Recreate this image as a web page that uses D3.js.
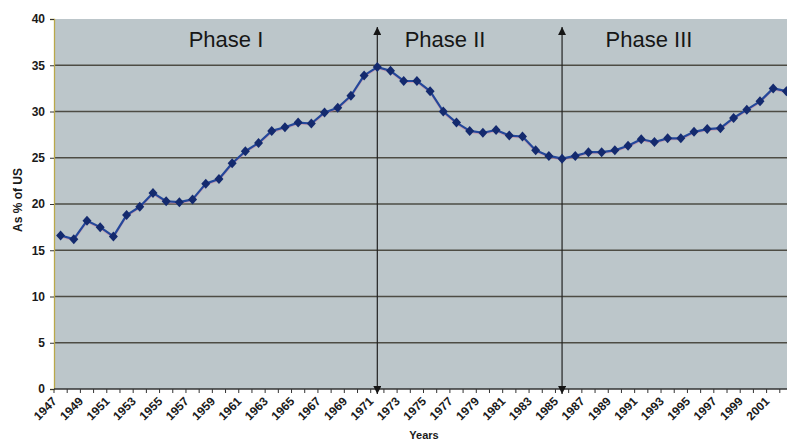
<!DOCTYPE html>
<html>
<head>
<meta charset="utf-8">
<script src="https://cdn.jsdelivr.net/npm/d3@7"></script>
<style>
  body { margin: 0; background: #fff; }
  svg { display: block; font-family: "Liberation Sans", Arial, sans-serif; }
</style>
</head>
<body>
<div id="chart"></div>
<script>
const years = d3.range(1947, 2003);
const shareOfUS = [
  16.6, 16.2, 18.2, 17.5, 16.5, 18.8, 19.7, 21.2, 20.3, 20.2,
  20.5, 22.2, 22.7, 24.4, 25.7, 26.6, 27.9, 28.3, 28.8, 28.7,
  29.9, 30.4, 31.7, 33.9, 34.8, 34.4, 33.3, 33.3, 32.2, 30.0,
  28.8, 27.9, 27.7, 28.0, 27.4, 27.3, 25.8, 25.2, 24.9, 25.2,
  25.6, 25.6, 25.8, 26.3, 27.0, 26.7, 27.1, 27.1, 27.8, 28.1,
  28.2, 29.3, 30.2, 31.1, 32.5, 32.2
];
const yTicks = [0, 5, 10, 15, 20, 25, 30, 35, 40];
const phaseBreaks = [1971, 1985];
const phaseNames = ["Phase I", "Phase II", "Phase III"];

const width = 787, height = 441;
const margin = { top: 19, right: -6, bottom: 52, left: 54 };

const svg = d3.select("#chart").append("svg")
  .attr("width", width)
  .attr("height", height);

const x = d3.scaleBand()
  .domain(years)
  .range([margin.left, width - margin.right])
  .padding(0);
const y = d3.scaleLinear()
  .domain([0, 40])
  .range([height - margin.bottom, margin.top]);

const cx = d => x(d) + x.bandwidth() / 2;

// plot background
svg.append("rect")
  .attr("x", margin.left)
  .attr("y", y(40))
  .attr("width", width - margin.right - margin.left)
  .attr("height", y(0) - y(40))
  .attr("fill", "#bcc6ca");

// gridlines
svg.append("g")
  .selectAll("line")
  .data(yTicks.filter(t => t > 0 && t < 40))
  .join("line")
  .attr("x1", margin.left)
  .attr("x2", width)
  .attr("y1", d => y(d))
  .attr("y2", d => y(d))
  .attr("stroke", "#4d4c44")
  .attr("stroke-width", 1.3);

// y axis
const yAxis = svg.append("g")
  .attr("transform", "translate(" + margin.left + ",0)")
  .call(d3.axisLeft(y).tickValues(yTicks).tickSize(4).tickPadding(5));
yAxis.select(".domain").attr("stroke", "#b9a84a").attr("stroke-width", 1.3);
yAxis.selectAll(".tick line").attr("stroke", "#333");
yAxis.selectAll(".tick text")
  .attr("fill", "#1a1a1a")
  .style("font-size", "12px")
  .style("font-weight", "bold");

// x axis
const xAxisG = svg.append("g");
xAxisG.append("line")
  .attr("x1", margin.left)
  .attr("x2", width)
  .attr("y1", y(0))
  .attr("y2", y(0))
  .attr("stroke", "#333")
  .attr("stroke-width", 1.3);
xAxisG.selectAll(".xtick")
  .data(years)
  .join("line")
  .attr("class", "xtick")
  .attr("x1", d => x(d))
  .attr("x2", d => x(d))
  .attr("y1", y(0))
  .attr("y2", y(0) + 4)
  .attr("stroke", "#333");
xAxisG.selectAll(".xlabel")
  .data(years.filter((d, i) => i % 2 === 0))
  .join("text")
  .attr("class", "xlabel")
  .attr("transform", d => "translate(" + (cx(d) - 3) + "," + (y(0) + 13) + ") rotate(-45)")
  .attr("text-anchor", "end")
  .attr("fill", "#1a1a1a")
  .style("font-size", "12px")
  .style("font-weight", "bold")
  .text(d => d);

// axis titles
svg.append("text")
  .attr("transform", "translate(22," + ((y(0) + y(40)) / 2 - 4) + ") rotate(-90)")
  .attr("text-anchor", "middle")
  .attr("fill", "#1a1a1a")
  .style("font-size", "12px")
  .style("font-weight", "bold")
  .text("As % of US");
svg.append("text")
  .attr("x", 424)
  .attr("y", 439)
  .attr("text-anchor", "middle")
  .attr("fill", "#1a1a1a")
  .style("font-size", "11px")
  .style("font-weight", "bold")
  .text("Years");

// phase arrows
svg.append("defs").append("marker")
  .attr("id", "head")
  .attr("viewBox", "0 0 10 10")
  .attr("refX", 10)
  .attr("refY", 5)
  .attr("markerWidth", 10)
  .attr("markerHeight", 8)
  .attr("markerUnits", "userSpaceOnUse")
  .attr("orient", "auto-start-reverse")
  .append("path")
  .attr("d", "M0,0L10,5L0,10Z")
  .attr("fill", "#151515");

svg.append("g")
  .selectAll("line")
  .data(phaseBreaks)
  .join("line")
  .attr("x1", d => cx(d))
  .attr("x2", d => cx(d))
  .attr("y1", 27)
  .attr("y2", y(0) + 5)
  .attr("stroke", "#222")
  .attr("stroke-width", 1.2)
  .attr("marker-start", "url(#head)")
  .attr("marker-end", "url(#head)");

// phase labels
const phaseX = [226, 445, 649];
svg.append("g")
  .selectAll("text")
  .data(phaseNames)
  .join("text")
  .attr("x", (d, i) => phaseX[i])
  .attr("y", 47)
  .attr("text-anchor", "middle")
  .attr("fill", "#161616")
  .style("font-size", "22px")
  .text(d => d);

// series line
const data = years.map((yr, i) => ({ year: yr, value: shareOfUS[i] }));
const line = d3.line()
  .x(d => cx(d.year))
  .y(d => y(d.value));

svg.append("path")
  .datum(data)
  .attr("fill", "none")
  .attr("stroke", "#d07a98")
  .attr("stroke-opacity", 0.5)
  .attr("stroke-width", 2)
  .attr("transform", "translate(0,1)")
  .attr("d", line);
svg.append("path")
  .datum(data)
  .attr("fill", "none")
  .attr("stroke", "#24479a")
  .attr("stroke-width", 2.2)
  .attr("stroke-linejoin", "round")
  .attr("d", line);

svg.append("g")
  .selectAll("path")
  .data(data)
  .join("path")
  .attr("transform", d => "translate(" + cx(d.year) + "," + y(d.value) + ")")
  .attr("d", "M0,-5L4.5,0L0,5L-4.5,0Z")
  .attr("fill", "#142a6e");
</script>
</body>
</html>
